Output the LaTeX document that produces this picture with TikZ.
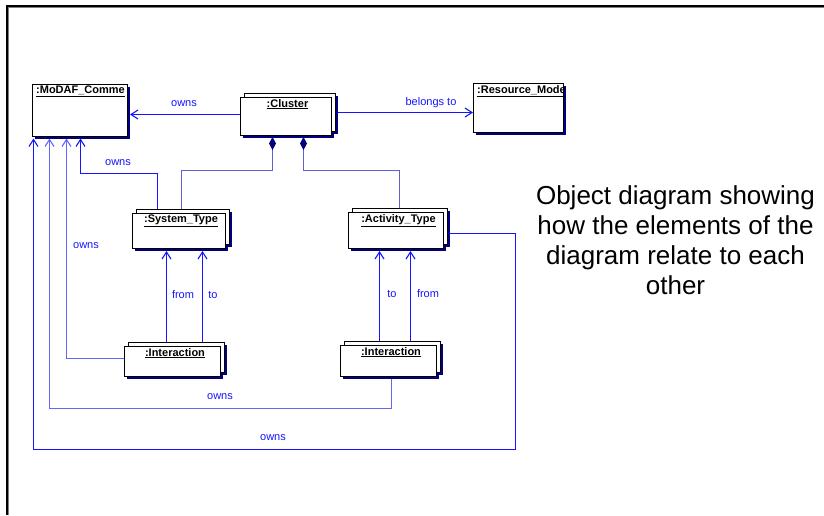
\documentclass[tikz,border=0pt]{standalone}
\usepackage{fontspec}
\setmainfont{Liberation Sans}
\usetikzlibrary{arrows.meta}

\definecolor{linkblue}{RGB}{20,20,255}
\definecolor{softblue}{RGB}{100,100,255}
\definecolor{compblue}{RGB}{95,95,210}
\definecolor{navyshadow}{RGB}{0,0,128}

\pgfdeclarelayer{links}
\pgfdeclarelayer{backs}
\pgfsetlayers{links,backs,main}

% drop shadow under a single object box
\newcommand{\boxshadow}[1]{%
  \begin{pgfonlayer}{backs}
    \fill[navyshadow] ([shift={(3pt,-3pt)}]#1.south west) rectangle ([shift={(3pt,-3pt)}]#1.north east);
  \end{pgfonlayer}}
% second card and shadow behind a multi-object box
\newcommand{\boxstack}[1]{%
  \begin{pgfonlayer}{backs}
    \fill[navyshadow] ([shift={(3pt,-3pt)}]#1.south west) rectangle ([shift={(3pt,-3pt)}]#1.north east);
    \fill[navyshadow] ([shift={(7pt,1pt)}]#1.south west) rectangle ([shift={(7pt,1pt)}]#1.north east);
    \filldraw[fill=white, draw=black, line width=0.9pt]
      ([shift={(4pt,4pt)}]#1.south west) rectangle ([shift={(4pt,4pt)}]#1.north east);
  \end{pgfonlayer}}

\tikzset{
  objbox/.style={draw=black, fill=white, line width=0.9pt, anchor=north west,
                 inner sep=0pt, outer sep=0pt},
  title/.style={font=\fontsize{11}{13}\selectfont\bfseries, inner sep=1pt},
  lbl/.style={text=linkblue, font=\fontsize{11}{13}\selectfont, inner sep=1pt},
  link/.style={draw=linkblue, line width=1.1pt},
  softlink/.style={draw=softblue, line width=1.1pt},
  complink/.style={draw=compblue, line width=1.1pt,
                   -{Diamond[length=13pt,width=7pt,color=navyshadow,fill=navyshadow]}},
  arr/.style={-{Straight Barb[length=7pt,width=9pt]}},
}

\begin{document}
\begin{tikzpicture}[x=1pt,y=-1pt]
\useasboundingbox (0,0) rectangle (824,515);

% page frame
\draw[line width=1.6pt, black] (7,515) -- (7,6) -- (824,6);
\draw[line width=0.6pt, gray] (8.6,515) -- (8.6,7.6) -- (824,7.6);

% object boxes
\node[objbox, minimum width=95pt, minimum height=52pt] (md) at (32,84) {};
\node[objbox, minimum width=90pt, minimum height=49pt] (rs) at (473,83) {};
\node[objbox, minimum width=91pt, minimum height=38pt] (cl) at (240,97) {};
\node[objbox, minimum width=93pt, minimum height=35pt] (st) at (132,213) {};
\node[objbox, minimum width=95pt, minimum height=36pt] (at) at (348,212) {};
\node[objbox, minimum width=96pt, minimum height=30pt] (il) at (124,346) {};
\node[objbox, minimum width=96pt, minimum height=31pt] (ir) at (340,345) {};

\boxshadow{md}
\boxshadow{rs}
\boxstack{cl}
\boxstack{st}
\boxstack{at}
\boxstack{il}
\boxstack{ir}

% box titles
\node[title, anchor=north west] (mdt) at ([shift={(3pt,-1pt)}]md.north west) {\underline{:MoDAF\_Comme}};
\node[title, anchor=north west] (rst) at ([shift={(3pt,-1pt)}]rs.north west) {\underline{:Resource\_Mode}};
\node[title, anchor=north] (clt) at ([shift={(2pt,-1pt)}]cl.north) {\underline{:Cluster}};
\node[title, anchor=north] (stt) at ([shift={(2.5pt,-1pt)}]st.north) {\underline{:System\_Type}};
\node[title, anchor=north] (att) at ([shift={(3pt,-1pt)}]at.north) {\underline{:Activity\_Type}};
\node[title, anchor=north] (ilt) at ([shift={(3pt,-1pt)}]il.north) {\underline{:Interaction}};
\node[title, anchor=north] (irt) at ([shift={(3pt,-1pt)}]ir.north) {\underline{:Interaction}};

% connector end points, just clear of the shadows and on pixel centres
\coordinate (mdS) at ([yshift=-2.5pt]md.south);
\coordinate (mdE) at ([xshift=3pt]md.east);
\coordinate (stS) at ([yshift=-3pt]st.south);
\coordinate (atS) at ([yshift=-3pt]at.south);
\coordinate (clS) at ([yshift=-2pt]cl.south);
\coordinate (clW) at ([yshift=1.5pt]cl.west);
\coordinate (clE) at ([yshift=3.5pt]cl.east);
\coordinate (d1) at ([xshift=-13pt]clS);
\coordinate (d2) at ([xshift=18pt]clS);
\coordinate (stN) at ([xshift=3pt]st.north);
\coordinate (stA) at ([xshift=-21pt]st.north);
\coordinate (atN) at ([xshift=4pt]at.north);
\coordinate (atE) at ([yshift=-3.5pt]at.east);
\coordinate (ilW) at ([yshift=2.5pt]il.west);
\coordinate (irS) at ([xshift=3.5pt]ir.south);

\begin{pgfonlayer}{links}
  \draw[link, arr] (clW) -- (clW -| mdE);
  \draw[link, arr] (clE) -- (clE -| rs.west);
  \draw[complink] (stN) |- (d1 |- 0,170.5) -- (d1);
  \draw[complink] (atN) |- (d2 |- 0,170.5) -- (d2);
  \draw[link, arr] (stA) |- (80.5,173.5) -- (mdS -| 80.5,0);
  \draw[softlink, arr] (ilW) -| (mdS -| 66.5,0);
  \draw[softlink, arr] (irS) |- (49.5,408.5) -- (mdS -| 49.5,0);
  \draw[link, arr] (atE) -- (atE -| 515.5,0) |- (33.5,449.5) -- (mdS -| 33.5,0);
  \draw[link, arr] (il.north -| 166.5,0) -- (stS -| 166.5,0);
  \draw[link, arr] (il.north -| 202.5,0) -- (stS -| 202.5,0);
  \draw[link, arr] (ir.north -| 379.5,0) -- (atS -| 379.5,0);
  \draw[link, arr] (ir.north -| 410.5,0) -- (atS -| 410.5,0);
\end{pgfonlayer}

% connector labels
\node[lbl] (l1) at (184,104) {owns};
\node[lbl] (l2) at (431,103) {belongs to};
\node[lbl] (l3) at (118,163) {owns};
\node[lbl] (l4) at (86,246) {owns};
\node[lbl] (l5) at (220,397) {owns};
\node[lbl] (l6) at (273,438) {owns};
\node[lbl] (l7) at (183,295) {from};
\node[lbl] (l8) at (213,295) {to};
\node[lbl] (l9) at (392,294) {to};
\node[lbl] (l10) at (428,294) {from};

% caption
\node[font=\fontsize{26}{30}\selectfont, align=center] (note) at (675.5,240.5)
  {Object diagram showing\\how the elements of the\\diagram relate to each\\other};
\end{tikzpicture}
\end{document}
